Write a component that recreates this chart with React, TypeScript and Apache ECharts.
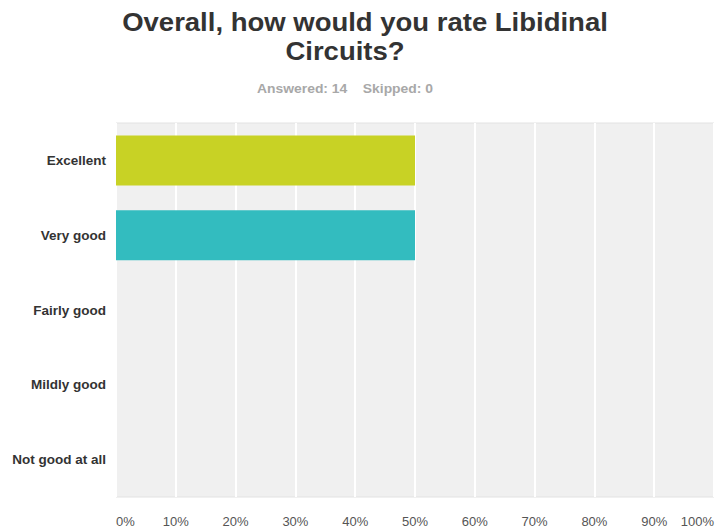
import React, { useEffect, useRef } from "react";
import * as echarts from "echarts";

const categories = ["Excellent", "Very good", "Fairly good", "Mildly good", "Not good at all"];
const percentValues = [50, 50, 0, 0, 0];
const barColors = ["#c8d225", "#33bcbf", "#c8d225", "#33bcbf", "#c8d225"];
const titleLine1 = "Overall, how would you rate Libidinal";
const titleLine2 = "Circuits?";
const subtitleText = "Answered: 14    Skipped: 0";

export default function App() {
  const ref = useRef<HTMLDivElement>(null);
  useEffect(() => {
    const chart = echarts.init(ref.current!, null, { renderer: "svg" });
    const font = "'Liberation Sans', Arial, Helvetica, sans-serif";
    chart.setOption({
      animation: false,
      backgroundColor: "#ffffff",
      textStyle: { fontFamily: font },
      graphic: [
        {
          type: "text",
          x: 365,
          y: 10,
          scaleX: 1.1,
          style: {
            text: titleLine1,
            font: `bold 25px ${font}`,
            fill: "#333333",
            textAlign: "center",
            textVerticalAlign: "top",
          },
        },
        {
          type: "text",
          x: 345,
          y: 39,
          scaleX: 1.1,
          style: {
            text: titleLine2,
            font: `bold 25px ${font}`,
            fill: "#333333",
            textAlign: "center",
            textVerticalAlign: "top",
          },
        },
        {
          type: "text",
          x: 345,
          y: 82,
          scaleX: 1.07,
          style: {
            text: subtitleText,
            font: `bold 13px ${font}`,
            fill: "#a8a8a8",
            textAlign: "center",
            textVerticalAlign: "top",
          },
        },
      ],
      grid: {
        left: 116,
        right: 5,
        top: 123,
        bottom: 32,
        show: true,
        backgroundColor: "#f0f0f0",
        borderColor: "#e2e2e2",
        borderWidth: 1,
      },
      xAxis: {
        type: "value",
        min: 0,
        max: 100,
        interval: 10,
        axisLine: { show: false },
        axisTick: { show: false },
        splitLine: { show: true, lineStyle: { color: "#ffffff", width: 2 } },
        axisLabel: {
          margin: 18,
          color: "#555555",
          fontSize: 13,
          fontFamily: font,
          showMinLabel: true,
          showMaxLabel: true,
          hideOverlap: false,
          alignMinLabel: "left",
          alignMaxLabel: "right",
          formatter: "{value}%",
        },
      },
      yAxis: {
        type: "category",
        data: categories,
        inverse: true,
        axisLine: { show: false },
        axisTick: { show: false },
        splitLine: { show: false },
        axisLabel: {
          margin: 10,
          color: "#333333",
          fontSize: 13.5,
          fontWeight: "bold",
          fontFamily: font,
        },
      },
      series: [
        {
          type: "bar",
          barWidth: 50,
          data: percentValues.map((v, i) => ({ value: v, itemStyle: { color: barColors[i] } })),
        },
      ],
    });
    return () => chart.dispose();
  }, []);
  return <div ref={ref} style={{ width: 719, height: 529, position: "absolute", left: 0, top: 0 }} />;
}
